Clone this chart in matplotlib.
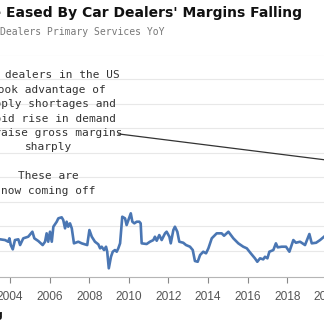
import matplotlib.pyplot as plt
from matplotlib.ticker import MultipleLocator

# PPI car dealers primary services, YoY %
years = [2003.50, 2003.75, 2003.91, 2003.97, 2004.04, 2004.14, 2004.25, 2004.42, 2004.51, 2004.67,
         2004.92, 2005.13, 2005.23, 2005.43, 2005.65, 2005.77, 2005.85, 2005.93, 2006.02, 2006.11,
         2006.19, 2006.36, 2006.44, 2006.61, 2006.69, 2006.78, 2006.86, 2006.94, 2007.03, 2007.12,
         2007.23, 2007.45, 2007.62, 2007.90, 2008.01, 2008.13, 2008.29, 2008.46, 2008.55, 2008.63,
         2008.75, 2008.85, 2008.91, 2008.99, 2009.10, 2009.19, 2009.30, 2009.39, 2009.47, 2009.56,
         2009.67, 2009.81, 2009.89, 2009.98, 2010.10, 2010.18, 2010.28, 2010.40, 2010.53, 2010.60,
         2010.65, 2010.90, 2011.07, 2011.24, 2011.32, 2011.41, 2011.54, 2011.66, 2011.83, 2011.91,
         2012.05, 2012.12, 2012.25, 2012.33, 2012.45, 2012.55, 2012.75, 2012.89, 2013.09, 2013.23,
         2013.34, 2013.48, 2013.60, 2013.76, 2013.90, 2014.02, 2014.19, 2014.44, 2014.69, 2014.81,
         2015.03, 2015.28, 2015.53, 2015.78, 2015.96, 2016.16, 2016.37, 2016.49, 2016.63, 2016.79,
         2016.88, 2017.00, 2017.10, 2017.30, 2017.43, 2017.52, 2017.72, 2017.94, 2018.11, 2018.31,
         2018.44, 2018.65, 2018.90, 2019.12, 2019.24, 2019.46, 2019.66, 2019.86]
yoy = [-2.71, -2.86, -3.20, -2.51, -3.88, -4.76, -2.86, -2.71, -3.88, -2.51,
       -2.18, -1.16, -2.51, -3.06, -3.88, -3.20, -1.49, -3.20, -1.16, -3.20,
       -0.14, 0.88, 1.57, 1.78, 1.22, -0.47, 0.88, -0.14, 0.55, -0.47,
       -3.53, -3.20, -3.53, -3.88, -0.82, -2.18, -3.20, -3.73, -4.55, -4.22,
       -4.90, -4.22, -5.24, -8.63, -6.27, -5.24, -4.90, -5.24, -4.55, -3.53,
       1.90, 1.57, 0.20, 1.22, 2.59, 0.88, 0.55, 0.88, 0.88, 0.55,
       -3.53, -3.67, -3.20, -2.86, -2.18, -3.00, -1.84, -2.86, -1.49, -1.16,
       -2.18, -3.53, -0.82, -0.14, -1.16, -3.20, -3.41, -3.88, -4.22, -4.90,
       -7.14, -7.29, -5.92, -5.24, -5.57, -4.55, -2.51, -1.49, -1.49, -1.98,
       -1.16, -2.51, -3.53, -4.22, -4.55, -5.57, -6.59, -7.29, -6.59, -6.80,
       -6.27, -6.59, -5.24, -4.90, -3.53, -4.35, -4.22, -4.22, -5.24, -2.86,
       -3.41, -3.20, -3.88, -1.63, -3.53, -3.41, -2.86, -2.18]

note = ("Car dealers in the US\ntook advantage of\nsupply shortages and\n"
        "rapid rise in demand\nto raise gross margins\nsharply\n\n"
        "These are\nnow coming off")

W, H = 324, 327
fig = plt.figure(figsize=(W / 100, H / 100), dpi=100)

# axes run past the right/left edge of the picture (the chart is cropped)
x0, x1 = 2002.5, 2023.0
left_px = 10 + (x0 - 2004) * 19.8
right_px = 10 + (x1 - 2004) * 19.8
ax = fig.add_axes([left_px / W, (H - 277) / H, (right_px - left_px) / W, (277 - 54.5) / H])

ax.plot(years, yoy, color='#4a76b3', lw=1.9, solid_joinstyle='round', zorder=3)

ax.set_xlim(x0, x1)
ax.set_ylim(-10.4, 35)
ax.xaxis.set_major_locator(MultipleLocator(2))
ax.set_yticks(range(-5, 36, 5))
ax.grid(axis='y', color='#e8e8e8', lw=0.8)
ax.set_axisbelow(True)
for s in ['top', 'left', 'right']:
    ax.spines[s].set_visible(False)
ax.spines['bottom'].set_color('#b5b5b5')
ax.spines['bottom'].set_linewidth(0.8)
ax.tick_params(axis='y', left=False, labelleft=False)
ax.tick_params(axis='x', direction='out', length=4, width=0.8, color='#888888',
               pad=6, labelsize=8.6, labelcolor='#555555')
for lab in ax.get_xticklabels():
    lab.set_fontfamily('Liberation Sans')

# annotation
ax.text(2005.94, 19.0, note, ha='center', va='center', multialignment='center',
        family='DejaVu Sans Mono', fontsize=8, color='#333333', linespacing=1.55)
ax.annotate('', xy=(2021.3, 12.8), xytext=(2009.47, 18.8),
            arrowprops=dict(arrowstyle='-', color='#333333', lw=0.9,
                            shrinkA=0, shrinkB=0), annotation_clip=False)

fig.text(302 / W, 1 - 13 / H, "Be Eased By Car Dealers' Margins Falling", ha='right', va='center',
         fontsize=10, fontweight='bold', color='#111111', family='DejaVu Sans')
fig.text(0 / W, 1 - 32 / H, "Dealers Primary Services YoY", ha='left', va='center',
         fontsize=7, color='#777777', family='DejaVu Sans Mono')
fig.text(3 / W, 1 - 315 / H, "Bloomberg", ha='right', va='center',
         fontsize=7, fontweight='bold', color='#111111')

fig.savefig('out.png', dpi=100)
